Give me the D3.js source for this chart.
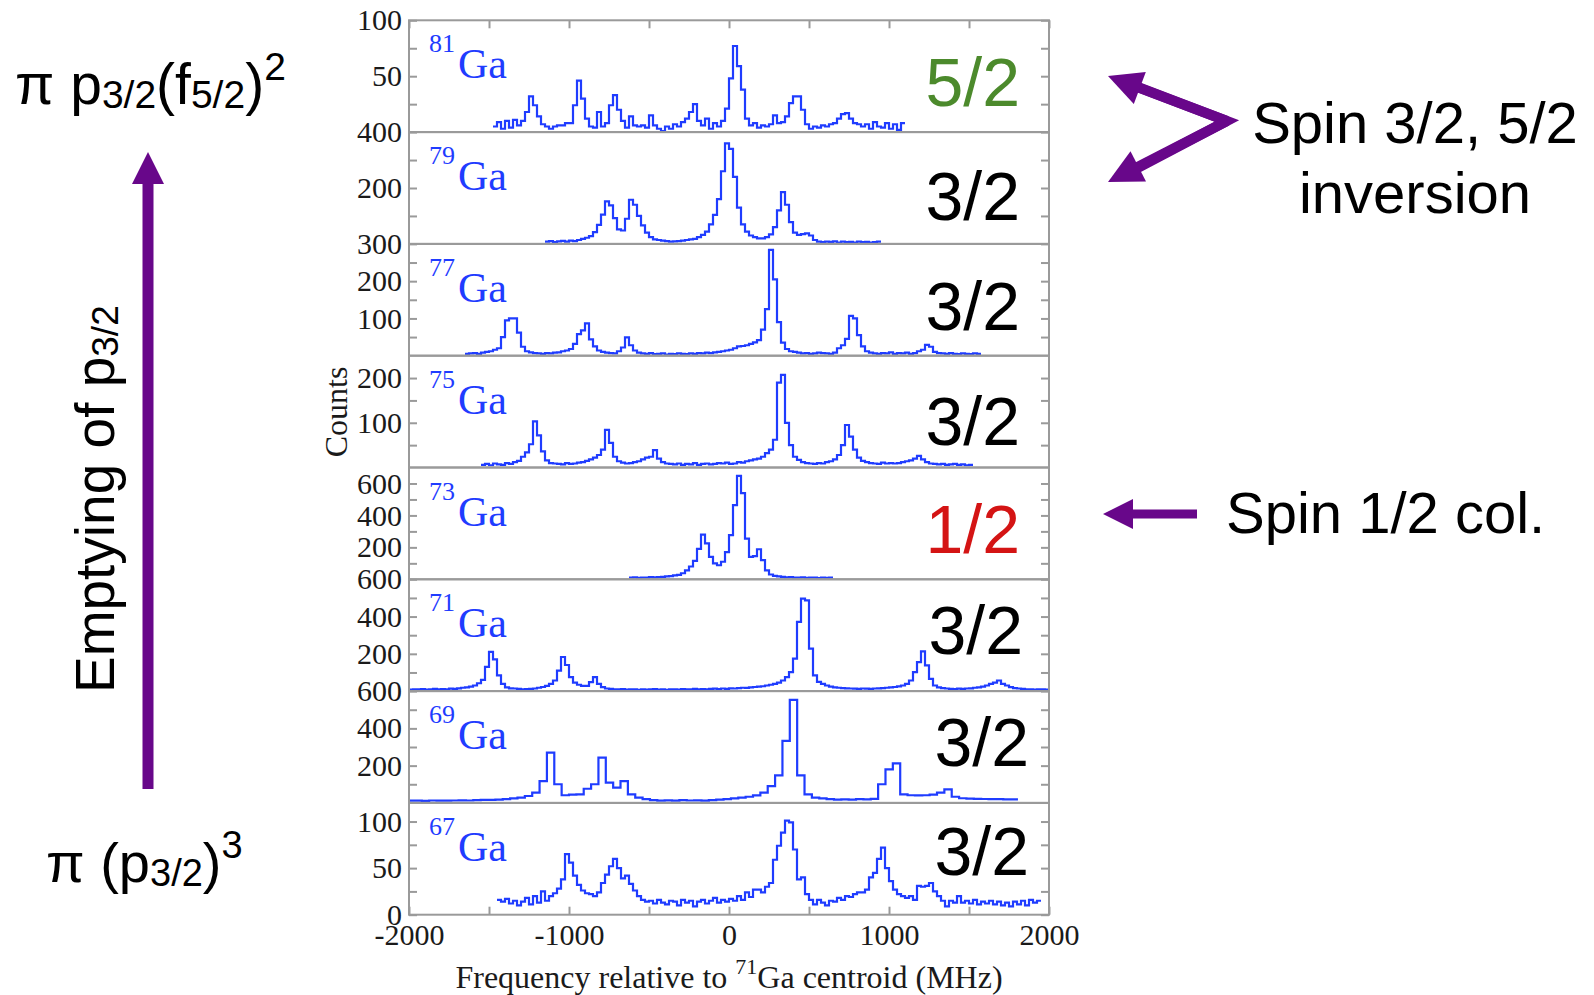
<!DOCTYPE html>
<html>
<head>
<meta charset="utf-8">
<script src="https://cdn.jsdelivr.net/npm/d3@7"></script>
<style>
  body { margin: 0; background: #ffffff; }
  svg { display: block; }
</style>
</head>
<body>
<svg id="chart" width="1594" height="995"></svg>
<script>
// ---- Data -------------------------------------------------------------
// Gallium isotopes, top panel to bottom panel
const isotopes = ["81", "79", "77", "75", "73", "71", "69", "67"];
const spins = ["5/2", "3/2", "3/2", "3/2", "1/2", "3/2", "3/2", "3/2"];
// Counts axis maximum and labelled ticks for every panel
const yMax = [100, 400, 300, 250, 700, 600, 600, 120];
const yMajor = [[50, 100], [200, 400], [100, 200, 300], [100, 200],
                [200, 400, 600], [200, 400, 600], [200, 400, 600], [0, 50, 100]];
// Frequency axis (MHz relative to the 71Ga centroid)
const freqLabels = [-2000, -1000, 0, 1000, 2000];
const freqMinor = [-1500, -500, 500, 1500];
// Histogram bins: first bin edge and bin width (MHz)
const binStart = [-1475, -1150, -1650, -1550, -625, -2000, -2012, -1450];
const binWidth = [25, 25, 25, 25, 25, 25, 46, 25];

const counts81 = [5,9,3,10,4,11,6, 10,18,32,24,14, 7,5,3,5,6,6,8, 8,24,46,30,12,5,
  4,18,5,8, 24,33,20,10, 4,14,6,5,6,4, 15,6,3,1,5,3,7,5, 9,12,18,25,10,6,
  12,3,8,5,10,21, 48,77,59,38,12, 6,8,4,6,5,7,15, 8,9,14,26,32,32,20,7,
  3,5,4,6,5,7,8,12, 16,17,12,8,7,5, 7,3,9,5,4,8,3,7,2,8];
const counts79 = [8,10,6,9,11,8,12,10,14,18,
  22,28,42,68,105,152,138,92,52,48,90,158,140,100,66,40,24,16,14,12,
  10,8,9,10,12,14,16,
  18,24,32,44,70,104,160,260,360,340,240,130,70,44,30,24,20,
  20,24,34,60,120,185,140,78,40,32,35,38,30,14,8,6,8,
  7,9,5,8,6,7,5,8,6,7,5,6,8];
const counts77 = [5,6,7,5,8,10,12,16, 20,50,95,100,100,62,24,12,
  9,7,6,5,7,6,8,9,12,14,18, 32,58,68,87,44,25,14, 10,8,7,6,12, 22,49,28,14,8,
  6,5,7,4,5,6,3,5,4,6,5,4,6,5,7,6,8,7,9,10,12,14,16,20,25,26,
  28,32,36,42,70,125,284,205,90,35,18,12, 10,8,6,7,5,6,8,7,6,5,8,
  20,28,45,107,100,55,25,12,8,
  6,5,7,6,9,5,7,6,8,5,7,12,16,29,24,10,7,6,5,7,5,4,6,5,4,6,5];
const counts75 = [6,8,5,9,7,6,10,8,12,15, 24,34,52,103,72,36,16,10,
  9,8,7,10,8,9,11,12,15,18, 22,28,40,84,55,24,14,11, 9,10,12,14,18,22,
  24,39,20,12,9, 8,7,9,6,8,7,10,6,8,9,7,8,10,9,11,8,9,12,11,14,16,
  18,20,24,32,40,62,190,207,100,50,24,17, 12,10,9,8,10,9,12,14,18,
  28,50,95,69,40,22,15,12,
  10,9,8,11,9,10,9,10,12,14,16,20,26,18,12,9,8,7,8,6,7,8,6,7,5,6];
const counts73 = [10,12,9,11,10,13,12,14,15,18,20,24,
  28,38,56,80,115,190,280,225, 140,100,88,110,170,
  276,464,648,540,255,140,145,188,120,56,
  30,22,18,15,12,14,11,10,12,9,11,10,8,10,9,11];
const counts71 = [8,10,9,11,8,10,12,9,11,10,13,12,15,18,20,24,
  30,42,60,130,210,170,84,39,20,15, 14,12,10,11,12,14,18,22,
  28,39,57,110,183,140,75,45,34,28, 28,48,75,39,21,14,
  12,10,9,11,8,10,9,7,10,8,9,11,8,10,7,9,10,8,11,9,10,12,9,11,10,12,13,11,14,12,
  15,14,16,18,17,20,22,24,26,30,34,39,
  45,57,75,102,174,371,496,487,228,84,50,39,
  30,24,20,18,16,15,14,13,12,14,13,12,14,15,16,18,20,22,25,30,39,57,
  102,156,213,138,66,30,20,16,
  14,12,11,13,12,14,15,18,20,24,30,39,45,57,39,30,21,16,14,12,10,9,8,10,9,8];
const counts69 = [12, 12,11,13,12,12,13,14,13,15,16,16, 18,20,24,28,37,
  55,117,270,100,41,44,46,76,100,243,109,82,117,46,28,
  20,15,12,14,12,15,13,14,12,15,18,20,24,28,33,40,55,90,148,
  333,553,148,46, 28,24,20,18,19,18,20,19,22,
  100,180,212,46,41,40,41,44,55,73, 33,25,23,22,21,20,20,19,19];
const counts67 = [16,14,17,12,15,10,14,18,11,20,13,25,15,20,23,
  28,38,65,56,42,32,26,23, 22,20,24,34,43,52,60,50,39,42,33,26,20,
  16,14,15,12,16,13,11,15,14,10,16,13,15,9,14,16,12,15,18,13,16,14,17,15,20,16,24,19,27,
  27,24,30,34,59,74,88,101,99,70,38,40,22,16,
  11,16,13,10,15,14,18,16,20,19,22,24,
  24,27,40,45,60,72,50,36,27,22,20,18,
  20,16,31,30,31,34,25,20,15,9,15,13,20,13,15,12,16,11,14,12,15,11,14,10,13,9,14,11,15,10,16,13,15];
const spectra = [counts81, counts79, counts77, counts75, counts73, counts71, counts69, counts67];

// ---- Layout -----------------------------------------------------------
const SERIF = "'Liberation Serif','Times New Roman',serif";
const SANS = "'Liberation Sans',Arial,sans-serif";
const frame = { left: 409, right: 1049, top: 20.3, panelH: 111.8 };
const spinColor = { "5/2": "#4c8a2c", "1/2": "#d41414", "3/2": "#000000" };
const spinRight = [1020, 1020, 1020, 1020, 1020, 1023, 1029, 1029];
const spinBase = [86, 88, 86, 89, 85, 75, 75, 72];
const LINE = "#1f3cff";
const FRAME = "#9a9a9a";
const PURPLE = "#68078a";
const TICK = 8;
const plain = d => String(d);   // hyphen-minus, as typeset on the axis

const svg = d3.select("#chart");
const x = d3.scaleLinear().domain([-2000, 2000]).range([frame.left, frame.right]);
const bottomY = frame.top + frame.panelH * isotopes.length;

const defs = svg.append("defs");

isotopes.forEach((iso, i) => {
  const top = frame.top + i * frame.panelH;
  const y = d3.scaleLinear().domain([0, yMax[i]]).range([top + frame.panelH, top]);
  const g = svg.append("g").attr("class", "panel");

  defs.append("clipPath").attr("id", "clip" + i)
    .append("rect").attr("x", frame.left).attr("y", top)
    .attr("width", frame.right - frame.left).attr("height", frame.panelH);

  // step spectrum
  const data = spectra[i];
  const pts = data.map((c, k) => [binStart[i] + k * binWidth[i], c]);
  pts.push([binStart[i] + data.length * binWidth[i], data[data.length - 1]]);
  g.append("path")
    .attr("clip-path", "url(#clip" + i + ")")
    .attr("d", d3.line().x(d => x(d[0])).y(d => y(d[1])).curve(d3.curveStepAfter)(pts))
    .attr("fill", "none").attr("stroke", LINE).attr("stroke-width", 2.2)
    .attr("stroke-linejoin", "miter");

  // counts ticks on both sides
  const major = yMajor[i];
  const step = major[1] - major[0];
  const minor = d3.range(step / 2, yMax[i], step).filter(v => !major.includes(v));
  const ticks = major.concat(minor);

  const left = g.append("g").attr("transform", `translate(${frame.left},0)`)
    .call(d3.axisLeft(y).tickValues(major).tickSize(-TICK).tickPadding(7).tickFormat(plain));
  g.append("g").attr("transform", `translate(${frame.left},0)`)
    .call(d3.axisLeft(y).tickValues(minor).tickSize(-TICK).tickFormat(""));
  g.append("g").attr("transform", `translate(${frame.right},0)`)
    .call(d3.axisRight(y).tickValues(ticks).tickSize(-TICK).tickFormat(""));
  g.selectAll(".domain").remove();
  g.selectAll(".tick line").attr("stroke", FRAME).attr("stroke-width", 2);
  left.selectAll(".tick text").attr("font-family", SERIF).attr("font-size", 30)
    .attr("fill", "#1a1a1a");

  // panel frame
  g.append("rect").attr("x", frame.left).attr("y", top)
    .attr("width", frame.right - frame.left).attr("height", frame.panelH)
    .attr("fill", "none").attr("stroke", FRAME).attr("stroke-width", 2);

  // isotope name
  const name = g.append("text").attr("x", 429).attr("y", top + 58)
    .attr("font-family", SERIF).attr("fill", LINE);
  name.append("tspan").attr("font-size", 26).attr("dy", -26).text(iso);
  name.append("tspan").attr("font-size", 42).attr("dy", 26).attr("dx", 3).text("Ga");

  // nuclear spin
  g.append("text").attr("x", spinRight[i]).attr("y", top + spinBase[i])
    .attr("text-anchor", "end").attr("font-family", SANS).attr("font-size", 68)
    .attr("fill", spinColor[spins[i]]).text(spins[i]);
});

// frequency axis (top and bottom)
function styleAxis(sel) {
  sel.select(".domain").remove();
  sel.selectAll(".tick line").attr("stroke", FRAME).attr("stroke-width", 2);
}
svg.append("g").attr("transform", `translate(0,${bottomY})`)
  .call(d3.axisBottom(x).tickValues(freqLabels).tickSize(-TICK).tickPadding(9).tickFormat(plain))
  .call(styleAxis)
  .call(s => s.selectAll(".tick text").attr("font-family", SERIF).attr("font-size", 30).attr("fill", "#1a1a1a"));
svg.append("g").attr("transform", `translate(0,${bottomY})`)
  .call(d3.axisBottom(x).tickValues(freqMinor).tickSize(-TICK).tickFormat(""))
  .call(styleAxis);
svg.append("g").attr("transform", `translate(0,${frame.top})`)
  .call(d3.axisTop(x).tickValues(freqLabels.concat(freqMinor)).tickSize(-TICK).tickFormat(""))
  .call(styleAxis);

// axis titles
const xt = svg.append("text").attr("x", (frame.left + frame.right) / 2).attr("y", 988)
  .attr("text-anchor", "middle").attr("font-family", SERIF).attr("font-size", 32).attr("fill", "#1a1a1a");
xt.append("tspan").text("Frequency relative to ");
xt.append("tspan").attr("font-size", 22).attr("dy", -14).text("71");
xt.append("tspan").attr("dy", 14).text("Ga centroid (MHz)");

svg.append("text").attr("transform", "translate(347,412) rotate(-90)")
  .attr("text-anchor", "middle").attr("font-family", SERIF).attr("font-size", 32)
  .attr("fill", "#1a1a1a").text("Counts");

// ---- Shell-model annotations -------------------------------------------
const topF = svg.append("text").attr("x", 15).attr("y", 104)
  .attr("font-family", SANS).attr("font-size", 57).attr("fill", "#000");
topF.append("tspan").text("π p");
topF.append("tspan").attr("font-size", 39).attr("dy", 4).text("3/2");
topF.append("tspan").attr("dy", -4).text("(f");
topF.append("tspan").attr("font-size", 39).attr("dy", 4).text("5/2");
topF.append("tspan").attr("dy", -4).text(")");
topF.append("tspan").attr("font-size", 39).attr("dy", -24).text("2");

const botF = svg.append("text").attr("x", 46).attr("y", 882)
  .attr("font-family", SANS).attr("font-size", 56).attr("fill", "#000");
botF.append("tspan").text("π (p");
botF.append("tspan").attr("font-size", 38).attr("dy", 4).text("3/2");
botF.append("tspan").attr("dy", -4).text(")");
botF.append("tspan").attr("font-size", 38).attr("dy", -24).text("3");

const empt = svg.append("text").attr("transform", "translate(114,693) rotate(-90)")
  .attr("font-family", SANS).attr("font-size", 55).attr("fill", "#000");
empt.append("tspan").text("Emptying of p");
empt.append("tspan").attr("font-size", 37).attr("dy", 4).text("3/2");

// arrow helper: shaft from (x1,y1) to a head whose tip sits at (x2,y2)
function arrowHead(x1, y1, x2, y2, len, half) {
  const dx = x2 - x1, dy = y2 - y1, L = Math.hypot(dx, dy);
  const ux = dx / L, uy = dy / L;
  const bx = x2 - ux * len, by = y2 - uy * len;
  return { base: [bx, by],
    pts: [[x2, y2], [bx - uy * half, by + ux * half], [bx + uy * half, by - ux * half]] };
}
function arrow(x1, y1, x2, y2, w, len, half) {
  const h = arrowHead(x1, y1, x2, y2, len, half);
  svg.append("line").attr("x1", x1).attr("y1", y1)
    .attr("x2", h.base[0] + (x2 - x1) * 0.01).attr("y2", h.base[1] + (y2 - y1) * 0.01)
    .attr("stroke", PURPLE).attr("stroke-width", w);
  svg.append("polygon").attr("points", h.pts.map(p => p.join(",")).join(" "))
    .attr("fill", PURPLE);
}
// filling direction arrow
arrow(148, 789, 148, 152, 11, 32, 16);

// inversion chevron
const vtx = [1227, 121];
svg.append("polyline")
  .attr("points", [[1130, 84], vtx, [1130, 172]].map(p => p.join(",")).join(" "))
  .attr("fill", "none").attr("stroke", PURPLE).attr("stroke-width", 10)
  .attr("stroke-linejoin", "miter");
arrow(vtx[0], vtx[1], 1108, 76, 10, 34, 17);
arrow(vtx[0], vtx[1], 1108, 182, 10, 34, 17);

// spin-1/2 arrow
arrow(1197, 514, 1103, 514, 9, 30, 15);

svg.append("text").attr("x", 1415).attr("y", 143).attr("text-anchor", "middle")
  .attr("font-family", SANS).attr("font-size", 58).text("Spin 3/2, 5/2");
svg.append("text").attr("x", 1415).attr("y", 213).attr("text-anchor", "middle")
  .attr("font-family", SANS).attr("font-size", 58).text("inversion");
svg.append("text").attr("x", 1226).attr("y", 533)
  .attr("font-family", SANS).attr("font-size", 58).text("Spin 1/2 col.");
</script>
</body>
</html>
